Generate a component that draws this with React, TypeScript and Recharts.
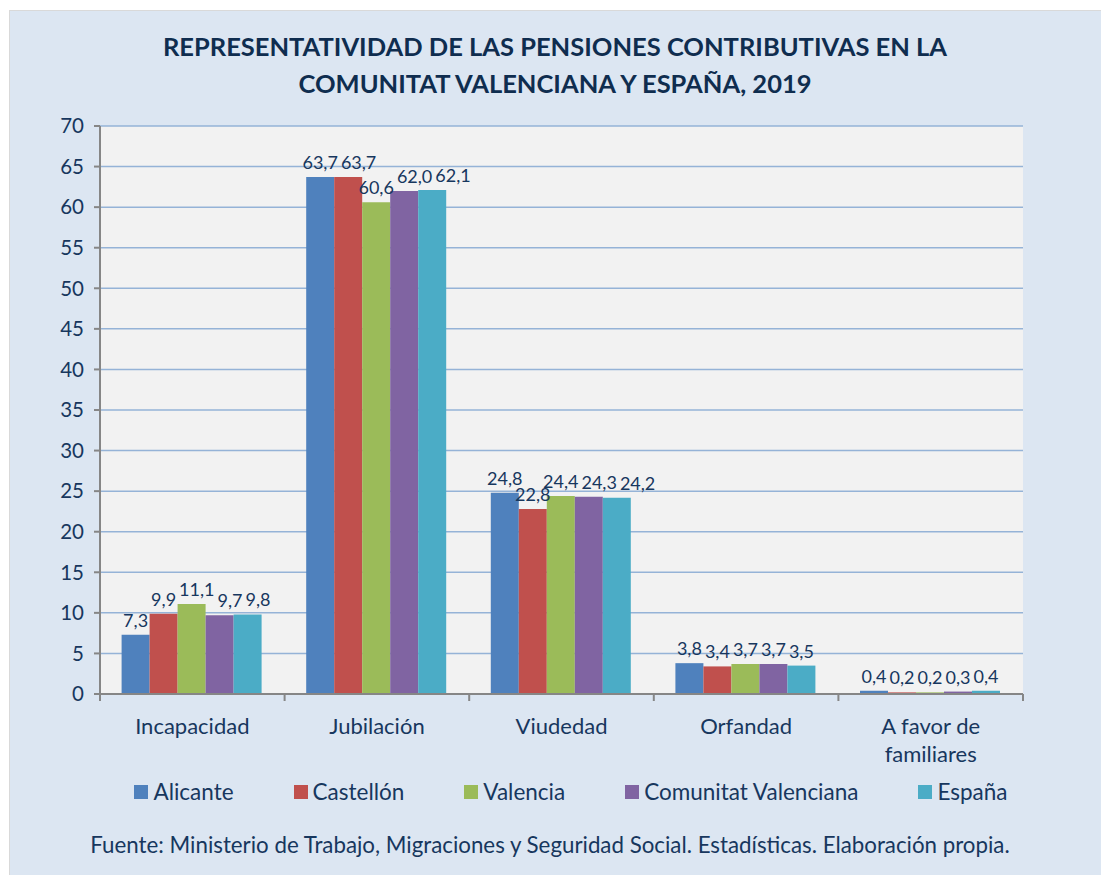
import React from "react";
import {
  BarChart, Bar, XAxis, YAxis, CartesianGrid, LabelList
} from "recharts";

const categories = ["Incapacidad", "Jubilación", "Viudedad", "Orfandad", "A favor de familiares"];
const alicante = [7.3, 63.7, 24.8, 3.8, 0.4];
const castellon = [9.9, 63.7, 22.8, 3.4, 0.2];
const valencia = [11.1, 60.6, 24.4, 3.7, 0.2];
const comunitat = [9.7, 62.0, 24.3, 3.7, 0.3];
const espana = [9.8, 62.1, 24.2, 3.5, 0.4];
const yTicks = [0, 5, 10, 15, 20, 25, 30, 35, 40, 45, 50, 55, 60, 65, 70];

const seriesNames = ["Alicante", "Castellón", "Valencia", "Comunitat Valenciana", "España"];
const seriesColors = ["#4f81bd", "#c0504d", "#9bbb59", "#8064a2", "#4bacc6"];
const seriesValues = [alicante, castellon, valencia, comunitat, espana];

const data = categories.map((name, i) => {
  const row: any = { name };
  seriesNames.forEach((s, j) => { row[s] = seriesValues[j][i]; });
  return row;
});

const TEXT = "#17375e";
const FONT = "Lato, 'Open Sans', sans-serif";
const MARGIN_TOP = 115;
const Y_MAX = 70;
const LABEL_SIZE = 18;
const CAT_SIZE = 22;

const fmt = (v: any) => Number(v).toFixed(1).replace(".", ",");

let ctx: CanvasRenderingContext2D | null = null;
function textWidth(s: string, size: number) {
  if (!ctx) {
    ctx = document.createElement("canvas").getContext("2d");
  }
  if (!ctx) return s.length * size * 0.5;
  ctx.font = `${size}px ${FONT}`;
  return ctx.measureText(s).width;
}

function wrap(s: string, size: number, maxW: number) {
  const lines: string[] = [];
  let cur = "";
  s.split(" ").forEach((word) => {
    const next = cur ? cur + " " + word : word;
    if (cur && textWidth(next, size) > maxW) {
      lines.push(cur);
      cur = word;
    } else {
      cur = next;
    }
  });
  if (cur) lines.push(cur);
  return lines;
}

// labels in one category are swept left to right and pushed right when
// they would collide with the previous one
function ValueLabel(props: any) {
  const { x, y, width, height, index, series } = props;
  const base = y + height;
  const ppu = (base - MARGIN_TOP) / Y_MAX;
  let prevRight = -Infinity;
  let prevTop = -Infinity;
  let cx = 0;
  for (let k = 0; k <= series; k++) {
    const v = seriesValues[k][index];
    const w = textWidth(fmt(v), LABEL_SIZE);
    let c = x + (k - series) * width + width / 2;
    const top = base - v * ppu;
    if (Math.abs(top - prevTop) < 12 && c - w / 2 < prevRight + 3) {
      c = prevRight + 3 + w / 2;
    }
    prevRight = c + w / 2;
    prevTop = top;
    cx = c;
  }
  return (
    <text
      x={cx}
      y={y - 8}
      textAnchor="middle"
      fill={TEXT}
      fontSize={LABEL_SIZE}
      fontFamily={FONT}
    >
      {fmt(seriesValues[series][index])}
    </text>
  );
}

function CategoryTick(props: any) {
  const { x, y, payload, index, visibleTicksCount, width } = props;
  const half = payload && payload.offset ? payload.offset : width / visibleTicksCount / 2;
  const isLast = index === visibleTicksCount - 1;
  const lines = wrap(String(payload.value), CAT_SIZE, 150);
  return (
    <g>
      <line x1={x - half} x2={x - half} y1={y} y2={y + 7} stroke="#868686" strokeWidth={2} />
      {isLast && <line x1={x + half} x2={x + half} y1={y} y2={y + 7} stroke="#868686" strokeWidth={2} />}
      <text
        x={x}
        y={y + 40}
        textAnchor="middle"
        fill={TEXT}
        fontSize={CAT_SIZE}
        fontFamily={FONT}
      >
        {lines.map((l, i) => (
          <tspan key={i} x={x} dy={i === 0 ? 0 : 28}>{l}</tspan>
        ))}
      </text>
    </g>
  );
}

export default function App() {
  return (
    <div
      style={{
        position: "absolute",
        left: 9,
        top: 10,
        width: 1092,
        height: 865,
        background: "#dce6f2",
        borderTop: "1px solid #d9d9d9",
        borderLeft: "1px solid #d9d9d9",
        boxSizing: "border-box",
        fontFamily: FONT,
        color: TEXT,
      }}
    >
      <div
        style={{
          position: "absolute",
          left: 0,
          width: 1090,
          top: 17,
          textAlign: "center",
          fontWeight: 700,
          fontSize: 25.5,
          lineHeight: "37px",
          color: "#0f2d4f",
        }}
      >
        REPRESENTATIVIDAD DE LAS PENSIONES CONTRIBUTIVAS EN LA
        <br />
        COMUNITAT VALENCIANA Y ESPAÑA, 2019
      </div>

      <div style={{ position: "absolute", left: 0, top: 0 }}>
        <BarChart
          width={1092}
          height={760}
          data={data}
          margin={{ top: MARGIN_TOP, right: 79, bottom: 0, left: 0 }}
          barCategoryGap="11.7%"
          barGap={0}
        >
          <CartesianGrid vertical={false} stroke="#95b3d7" strokeWidth={1.5} fill="#f2f2f2" />
          <YAxis
            width={90}
            domain={[0, Y_MAX]}
            ticks={yTicks}
            interval={0}
            tick={{ fill: TEXT, fontSize: 20.5, fontFamily: FONT }}
            tickSize={6}
            tickMargin={10}
            axisLine={{ stroke: "#868686", strokeWidth: 2 }}
            tickLine={{ stroke: "#868686", strokeWidth: 2 }}
          />
          <XAxis
            dataKey="name"
            height={77}
            interval={0}
            tickSize={0}
            tickMargin={0}
            tickLine={false}
            axisLine={{ stroke: "#868686", strokeWidth: 2 }}
            tick={<CategoryTick />}
          />
          {seriesNames.map((s, j) => (
            <Bar key={s} dataKey={s} fill={seriesColors[j]} isAnimationActive={false}>
              <LabelList
                dataKey={s}
                content={(p: any) => <ValueLabel {...p} series={j} />}
              />
            </Bar>
          ))}
        </BarChart>
      </div>

      <div
        style={{
          position: "absolute",
          left: 0,
          width: 1122,
          top: 766,
          display: "flex",
          justifyContent: "center",
          gap: 60,
          fontSize: 22.5,
          lineHeight: "30px",
        }}
      >
        {seriesNames.map((s, j) => (
          <div key={s} style={{ display: "flex", alignItems: "center" }}>
            <span style={{ width: 14, height: 14, background: seriesColors[j], marginRight: 5, display: "inline-block" }} />
            <span>{s}</span>
          </div>
        ))}
      </div>

      <div
        style={{
          position: "absolute",
          left: 0,
          width: 1080,
          top: 819,
          textAlign: "center",
          fontSize: 22.3,
          lineHeight: "30px",
        }}
      >
        Fuente: Ministerio de Trabajo, Migraciones y Seguridad Social. Estadísticas. Elaboración propia.
      </div>
    </div>
  );
}
